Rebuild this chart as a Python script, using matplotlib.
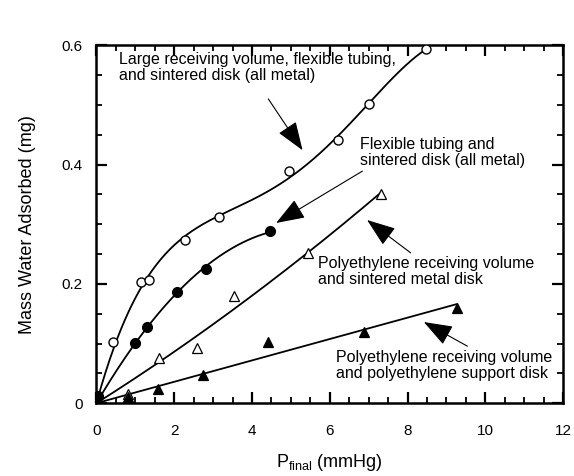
import numpy as np
import matplotlib
matplotlib.use("Agg")
import matplotlib.pyplot as plt
from matplotlib.ticker import MultipleLocator

plt.rcParams['font.family'] = ['Liberation Sans', 'DejaVu Sans']

# Large receiving volume, flexible tubing, sintered disk (open circles)
oc_x = [0.0, 0.43, 1.14, 1.35, 2.28, 3.16, 4.96, 6.2, 7.01, 8.47]
oc_y = [0.0, 0.102, 0.203, 0.206, 0.273, 0.312, 0.389, 0.441, 0.502, 0.594]
# Flexible tubing and sintered disk (filled circles)
fc_x = [0.0, 0.05, 0.99, 1.29, 2.06, 2.83, 4.46]
fc_y = [0.0, 0.012, 0.101, 0.127, 0.187, 0.225, 0.288]
# Polyethylene receiving volume and sintered metal disk (open triangles)
ot_x = [0.0, 0.82, 1.6, 2.59, 3.53, 5.44, 7.32]
ot_y = [0.0, 0.016, 0.075, 0.093, 0.179, 0.252, 0.351]
# Polyethylene receiving volume and polyethylene support disk (filled triangles)
ft_x = [0.0, 0.82, 1.59, 2.73, 4.42, 6.89, 9.26]
ft_y = [0.0, 0.011, 0.023, 0.047, 0.103, 0.12, 0.159]

labels = [
    "Large receiving volume, flexible tubing,\nand sintered disk (all metal)",
    "Flexible tubing and\nsintered disk (all metal)",
    "Polyethylene receiving volume\nand sintered metal disk",
    "Polyethylene receiving volume\nand polyethylene support disk",
]

fig = plt.figure(figsize=(5.74, 4.76), dpi=100)
ax = fig.add_axes([0.168, 0.153, 0.813, 0.752])

def fitline(x, y, deg):
    x = np.asarray(x); y = np.asarray(y)
    A = np.vstack([x ** k for k in range(1, deg + 1)]).T
    c, *_ = np.linalg.lstsq(A, y, rcond=None)
    xs = np.linspace(0, x.max(), 300)
    ys = sum(c[k - 1] * xs ** k for k in range(1, deg + 1))
    return xs, ys

lw = 1.3
for x, y, deg in [(oc_x, oc_y, 4), (fc_x, fc_y, 2), (ot_x, ot_y, 2), (ft_x, ft_y, 1)]:
    xs, ys = fitline(x, y, deg)
    ax.plot(xs, ys, color='black', lw=lw, zorder=2)

ax.plot(oc_x, oc_y, 'o', ms=6.5, mfc='white', mec='black', mew=1.0, zorder=3)
ax.plot(fc_x, fc_y, 'o', ms=7, mfc='black', mec='black', mew=1.0, zorder=3)
ax.plot(ot_x, ot_y, '^', ms=6.5, mfc='white', mec='black', mew=0.9, zorder=3)
ax.plot(ft_x, ft_y, '^', ms=6.5, mfc='black', mec='black', mew=0.9, zorder=3)

ax.set_xlim(0, 12)
ax.set_ylim(0, 0.6)
ax.xaxis.set_minor_locator(MultipleLocator(0.5))
ax.yaxis.set_minor_locator(MultipleLocator(0.05))
ax.set_xticks([0, 2, 4, 6, 8, 10, 12])
ax.set_xticklabels(['0', '2', '4', '6', '8', '10', '12'])
ax.set_yticks([0, 0.2, 0.4, 0.6])
ax.set_yticklabels(['0', '0.2', '0.4', '0.6'])
ax.tick_params(which='both', direction='in', top=True, right=True, labelsize=11, colors='black')
ax.tick_params(which='major', length=8, width=1.6)
ax.tick_params(which='minor', length=4.5, width=1.3)
ax.tick_params(axis='x', which='major', pad=15)
ax.tick_params(axis='y', which='major', pad=10)
for s in ax.spines.values():
    s.set_linewidth(1.8)

ax.set_ylabel("Mass Water Adsorbed (mg)", fontsize=13, labelpad=18)
ax.set_xlabel(r"P$_{\mathregular{final}}$ (mmHg)", fontsize=13, labelpad=10)

arrow = dict(arrowstyle='-|>,head_length=1.5,head_width=0.55', mutation_scale=12,
             lw=0.8, color='black', shrinkA=0, shrinkB=0)
fs = 11.5
ls = 1.08
ax.text(0.59, 0.563, labels[0], fontsize=fs, va='center', ha='left', linespacing=ls)
ax.annotate('', xy=(5.3, 0.424), xytext=(4.42, 0.51), arrowprops=arrow)
ax.text(6.79, 0.4195, labels[1], fontsize=fs, va='center', ha='left', linespacing=ls)
ax.annotate('', xy=(4.62, 0.302), xytext=(6.84, 0.389), arrowprops=arrow)
ax.text(5.70, 0.220, labels[2], fontsize=fs, va='center', ha='left', linespacing=ls)
ax.annotate('', xy=(6.96, 0.307), xytext=(8.08, 0.252), arrowprops=arrow)
ax.text(6.16, 0.063, labels[3], fontsize=fs, va='center', ha='left', linespacing=ls)
ax.annotate('', xy=(8.42, 0.136), xytext=(9.54, 0.0955), arrowprops=arrow)

fig.savefig('out.png', dpi=100)
